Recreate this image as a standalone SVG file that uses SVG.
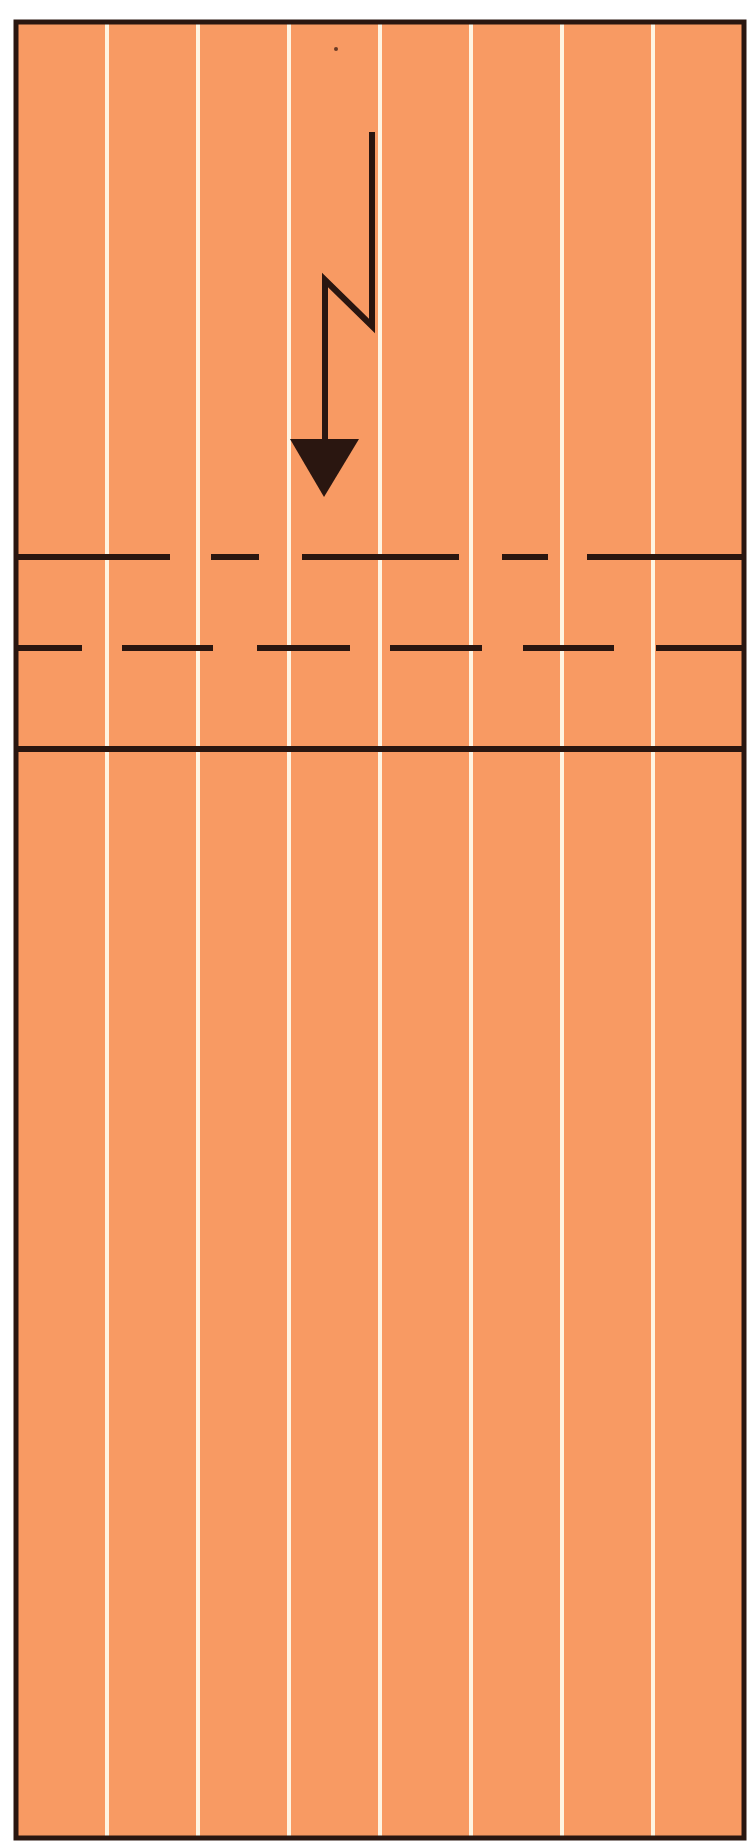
<svg xmlns="http://www.w3.org/2000/svg" width="748" height="1842" viewBox="0 0 748 1842">
<style>
.paper{fill:#F89A63;}
.crease{stroke:#FFF4E2;stroke-width:4;fill:none;}
.fold{stroke:#2A1610;stroke-width:6;fill:none;}
.edge{stroke:#2A1610;stroke-width:5;fill:none;}
</style>
<rect x="0" y="0" width="748" height="1842" fill="#ffffff"/>
<g id="paper">
<rect class="paper" x="16" y="22" width="728" height="1816"/>
<g id="creases">
<line class="crease" x1="107" y1="22" x2="107" y2="1838"/>
<line class="crease" x1="198" y1="22" x2="198" y2="1838"/>
<line class="crease" x1="289" y1="22" x2="289" y2="1838"/>
<line class="crease" x1="380" y1="22" x2="380" y2="1838"/>
<line class="crease" x1="471" y1="22" x2="471" y2="1838"/>
<line class="crease" x1="562" y1="22" x2="562" y2="1838"/>
<line class="crease" x1="653" y1="22" x2="653" y2="1838"/>
</g>
<g id="mountain-fold">
<line class="fold" x1="18" y1="557" x2="170" y2="557"/>
<line class="fold" x1="211" y1="557" x2="259" y2="557"/>
<line class="fold" x1="302" y1="557" x2="459" y2="557"/>
<line class="fold" x1="502" y1="557" x2="548" y2="557"/>
<line class="fold" x1="587" y1="557" x2="744" y2="557"/>
</g>
<g id="valley-fold">
<line class="fold" x1="18" y1="648" x2="82" y2="648"/>
<line class="fold" x1="122" y1="648" x2="213" y2="648"/>
<line class="fold" x1="257" y1="648" x2="350" y2="648"/>
<line class="fold" x1="390" y1="648" x2="482" y2="648"/>
<line class="fold" x1="523" y1="648" x2="614" y2="648"/>
<line class="fold" x1="656" y1="648" x2="744" y2="648"/>
</g>
<line id="fold-edge" class="fold" x1="16" y1="749" x2="744" y2="749"/>
<rect class="edge" x="16" y="22" width="728" height="1816"/>
<circle cx="336" cy="49" r="2" fill="#6a3a25"/>
</g>
<g id="connectors">
<polyline class="fold" points="372,132 372,326 325,280 325,445" stroke-linejoin="miter"/>
<polygon points="290,439 359,439 324,497" fill="#2A1610"/>
</g>
</svg>
